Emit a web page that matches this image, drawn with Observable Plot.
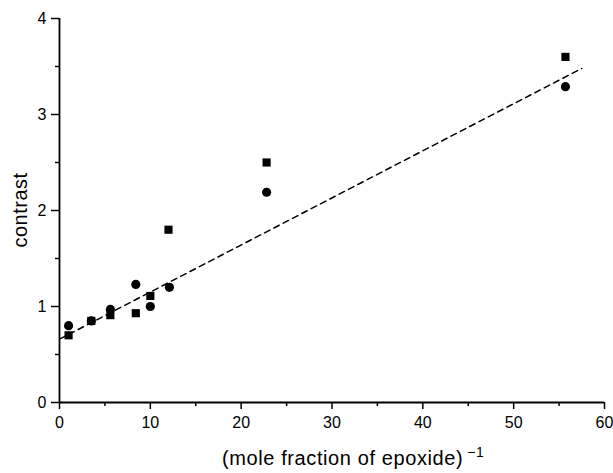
<!DOCTYPE html>
<html>
<head>
<meta charset="utf-8">
<script src="https://cdn.jsdelivr.net/npm/d3@7"></script>
<script src="https://cdn.jsdelivr.net/npm/@observablehq/plot@0.6"></script>
<style>
  html, body { margin: 0; padding: 0; background: #fff; }
  #chart svg { display: block; }
</style>
</head>
<body>
<div id="chart"></div>
<script>
// Circles series
const xCircle = [1, 3.5, 5.6, 8.4, 10, 12.1, 22.8, 55.7];
const yCircle = [0.80, 0.85, 0.97, 1.23, 1.00, 1.20, 2.19, 3.29];
// Squares series
const xSquare = [1, 3.5, 5.6, 8.4, 10, 12, 22.8, 55.7];
const ySquare = [0.70, 0.85, 0.91, 0.93, 1.11, 1.80, 2.50, 3.60];
// Dashed fit line endpoints
const fitX = [0, 57.5];
const fitY = [0.66, 3.48];
// Ticks
const xMajor = [0, 10, 20, 30, 40, 50, 60];
const xMinor = [5, 15, 25, 35, 45, 55];
const yMajor = [0, 1, 2, 3, 4];
const yMinor = [0.5, 1.5, 2.5, 3.5];
const xLabel = "(mole fraction of epoxide)";
const xLabelSup = "\u22121";
const yLabel = "contrast";

const circles = xCircle.map((x, i) => ({x, y: yCircle[i]}));
const squares = xSquare.map((x, i) => ({x, y: ySquare[i]}));
const fit = fitX.map((x, i) => ({x, y: fitY[i]}));

const font = "'Liberation Sans', Arial, sans-serif";

const plot = Plot.plot({
  width: 613,
  height: 473,
  marginLeft: 59,
  marginRight: 9,
  marginTop: 18,
  marginBottom: 71,
  style: {fontFamily: font, fontSize: "16px", color: "#000", background: "#fff"},
  x: {domain: [0, 60]},
  y: {domain: [0, 4]},
  marks: [
    Plot.axisX({ticks: xMajor, tickSize: 7, tickPadding: 7, tickFormat: d => String(d), label: null, fontSize: 16, strokeWidth: 1.5}),
    Plot.axisX({ticks: xMinor, tickSize: 4, tickFormat: () => "", label: null, strokeWidth: 1.5}),
    Plot.axisY({ticks: yMajor, tickSize: 8, tickPadding: 5, tickFormat: d => String(d), label: null, fontSize: 16, strokeWidth: 1.5}),
    Plot.axisY({ticks: yMinor, tickSize: 4, tickFormat: () => "", label: null, strokeWidth: 1.5}),
    Plot.ruleY([0], {stroke: "#000", strokeWidth: 1.8}),
    Plot.ruleX([0], {stroke: "#000", strokeWidth: 1.8}),
    Plot.line(fit, {x: "x", y: "y", stroke: "#000", strokeWidth: 1.5, strokeDasharray: "6,4.5"}),
    Plot.dot(circles, {x: "x", y: "y", r: 4.6, fill: "#000", stroke: "none", symbol: "circle"}),
    Plot.dot(squares, {x: "x", y: "y", r: 4.6, fill: "#000", stroke: "none", symbol: "square"})
  ]
});

const svg = d3.select(plot);
// x-axis label with superscript
const t = svg.append("text")
  .attr("x", 222)
  .attr("y", 465)
  .attr("text-anchor", "start")
  .attr("font-family", font)
  .attr("font-size", 20)
  .attr("letter-spacing", 0.6)
  .attr("fill", "#000");
t.append("tspan").text(xLabel);
t.append("tspan").attr("dx", 4).attr("dy", -8).attr("font-size", 14).text(xLabelSup);
// y-axis label
svg.append("text")
  .attr("transform", "translate(27,210) rotate(-90)")
  .attr("text-anchor", "middle")
  .attr("font-family", font)
  .attr("font-size", 20)
  .attr("letter-spacing", 0.5)
  .attr("fill", "#000")
  .text(yLabel);

document.getElementById("chart").appendChild(plot);
</script>
</body>
</html>
